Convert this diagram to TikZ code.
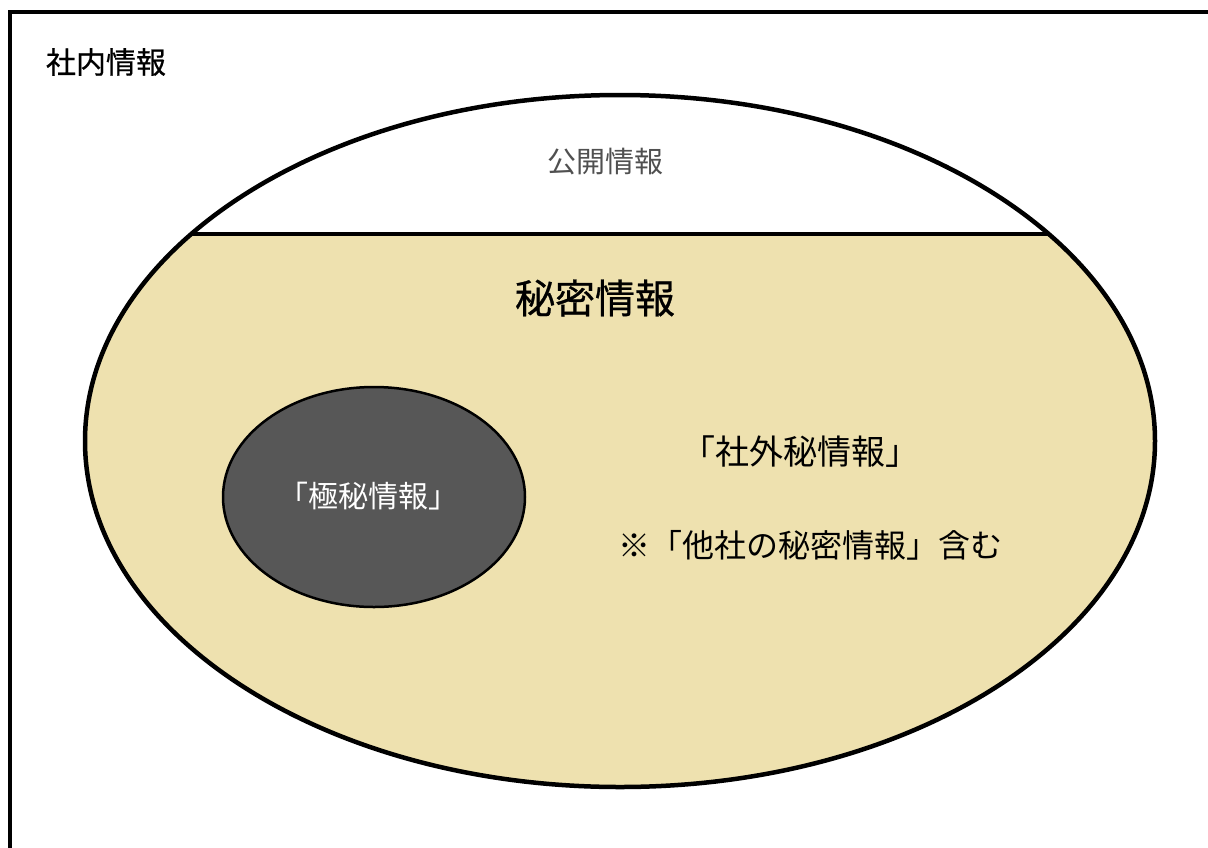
\documentclass[tikz,border=0pt]{standalone}
\usepackage{fontspec}
\newfontfamily\jp{Noto Sans CJK JP}
\newfontfamily\jpm[FakeBold=0.7]{Noto Sans CJK JP}
\definecolor{tan}{RGB}{238,225,175}
\definecolor{darkfill}{RGB}{87,87,87}
\definecolor{pubgray}{RGB}{80,80,80}
\begin{document}
\begin{tikzpicture}[x=1pt,y=-1pt,
  lbl/.style={font=\jp, inner sep=0pt, anchor=center}]
\useasboundingbox (0,0) rectangle (1208,847);
\clip (0,0) rectangle (1208,847);
% outer frame (extends beyond the page on the right and bottom)
\draw[line width=3.2pt] (10,12) rectangle (1230,880);
% big ellipse
\fill[tan] (620,441) ellipse [x radius=535, y radius=346];
\begin{scope}
  \clip (0,0) rectangle (1208,234);
  \fill[white] (620,441) ellipse [x radius=535, y radius=346];
\end{scope}
\coordinate (chordL) at (191,234);
\coordinate (chordR) at (1049,234);
\draw[line width=3.5pt] (chordL) -- (chordR);
\draw[line width=4.5pt] (620,441) ellipse [x radius=535, y radius=346];
% small ellipse
\draw[line width=2.5pt, fill=darkfill] (374,497) ellipse [x radius=151, y radius=110];
% texts
\node[lbl, font=\jpm\fontsize{30}{36}\selectfont] (shanai) at (106,62) {社内情報};
\node[lbl, text=pubgray, font=\jp\fontsize{29}{34}\selectfont] (kokai) at (605,162) {公開情報};
\node[lbl, font=\jpm\fontsize{40}{46}\selectfont] (himitsu) at (595,298) {秘密情報};
\node[lbl, text=white, font=\jp\fontsize{30}{36}\selectfont] (gokuhi) at (368,496) {「極秘情報」};
\node[lbl, font=\jp\fontsize{34}{40}\selectfont] (shagaihi) at (800,452) {「社外秘情報」};
\node[lbl, font=\jp\fontsize{32}{38}\selectfont] (tasha) at (810,545) {※「他社の秘密情報」含む};
\end{tikzpicture}
\end{document}
